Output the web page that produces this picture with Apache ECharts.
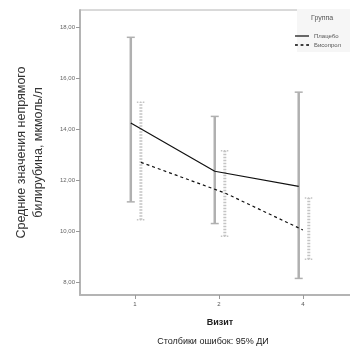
<!DOCTYPE html>
<html>
<head>
<meta charset="utf-8">
<script src="https://cdn.jsdelivr.net/npm/echarts@6/dist/echarts.min.js"></script>
<style>
  html, body, #main { width: 350px; height: 352px; margin: 0; background: #fff; }
</style>
</head>
<body>
<div id="main"></div>
<script>
// visits on the x axis (positions 1..3, labelled as in the source)
var visitPos = [1, 2, 3]
var visitLabels = ['1', '2', '4']

// means and 95% CI
var placeboMean = [14.24, 12.35, 11.76]
var placeboLow = [11.15, 10.3, 8.15]
var placeboHigh = [17.6, 14.5, 15.45]

var bisoMean = [12.7, 11.5, 10.05]
var bisoLow = [10.45, 9.8, 8.9]
var bisoHigh = [15.05, 13.15, 11.3]

var yTicks = [8, 10, 12, 14, 16, 18]

var offP = -0.05, offB = 0.07

var chart = echarts.init(document.getElementById('main'))

function errBar(color, width, dash) {
  return function (params, api) {
    var x = api.value(0)
    var lo = api.coord([x, api.value(1)])
    var hi = api.coord([x, api.value(2)])
    var w = 4
    var st = { stroke: color, lineWidth: width, lineDash: dash }
    var cap = { stroke: color, lineWidth: 1.5, lineDash: dash }
    return {
      type: 'group',
      children: [
        { type: 'line', shape: { x1: lo[0], y1: lo[1], x2: hi[0], y2: hi[1] }, style: st },
        { type: 'line', shape: { x1: hi[0] - w, y1: hi[1], x2: hi[0] + w, y2: hi[1] }, style: cap },
        { type: 'line', shape: { x1: lo[0] - w, y1: lo[1], x2: lo[0] + w, y2: lo[1] }, style: cap }
      ]
    }
  }
}

var option = {
  animation: false,
  backgroundColor: '#fff',
  grid: {
    left: 80, top: 10, right: -10, bottom: 57, outerBoundsMode: 'none',
    show: true, borderColor: '#b4b4b4', borderWidth: 1
  },
  xAxis: {
    type: 'value', min: 0.345, max: 3.68,
    splitLine: { show: false },
    axisLine: { lineStyle: { color: '#b4b4b4', width: 2 } },
    axisTick: { customValues: visitPos, length: 4, lineStyle: { color: '#999' } },
    axisLabel: {
      customValues: visitPos, fontSize: 6, color: '#555', margin: 6,
      formatter: function (v) { return visitLabels[visitPos.indexOf(v)] }
    },
    name: 'Визит', nameLocation: 'middle', nameGap: 23,
    nameTextStyle: { fontSize: 9, fontWeight: 'bold', color: '#222', fontFamily: 'Arial' }
  },
  yAxis: {
    type: 'value', min: 7.5, max: 18.67,
    splitLine: { show: false },
    axisLine: { show: true, lineStyle: { color: '#b4b4b4', width: 2 } },
    axisTick: { show: true, customValues: yTicks, length: 4, lineStyle: { color: '#999' } },
    axisLabel: {
      customValues: yTicks, fontSize: 6, color: '#666', margin: 5,
      formatter: function (v) { return v.toFixed(2).replace('.', ',') }
    },
    name: 'Средние значения непрямого\nбилирубина, мкмоль/л',
    nameLocation: 'middle', nameGap: 33, nameRotate: 90,
    nameTextStyle: { fontSize: 12.5, color: '#333', lineHeight: 17, fontFamily: 'Arial' }
  },
  legend: {
    orient: 'vertical', right: 4, top: 28, itemWidth: 14, itemHeight: 6, itemGap: 3,
    textStyle: { fontSize: 6, color: '#555' },
    data: [
      { name: 'Плацебо', icon: 'path://M0,0L12,0L12,1L0,1Z' },
      { name: 'Бисопрол', icon: 'path://M0,0L2,0L2,1L0,1ZM4,0L6,0L6,1L4,1ZM8,0L10,0L10,1L8,1Z' }
    ],
    itemStyle: { color: '#000' }
  },
  graphic: [
    { type: 'rect', left: 297, top: 9, shape: { width: 53, height: 43 }, style: { fill: '#f6f6f6' }, z: 1 },
    { type: 'text', left: 311, top: 15, style: { text: 'Группа', fontSize: 7, fill: '#555' }, z: 5 },
    {
      type: 'text', x: 213, y: 337,
      style: { text: 'Столбики ошибок: 95% ДИ', fontSize: 9, fill: '#222', fontFamily: 'Arial', align: 'center' }
    }
  ],
  series: [
    {
      type: 'custom', name: 'ciP',
      renderItem: errBar('#b0b0b0', 2.5, null),
      data: visitPos.map(function (v, i) { return [v + offP, placeboLow[i], placeboHigh[i]] }),
      z: 2
    },
    {
      type: 'custom', name: 'ciB',
      renderItem: errBar('#c4c4c4', 3, [1.5, 1.5]),
      data: visitPos.map(function (v, i) { return [v + offB, bisoLow[i], bisoHigh[i]] }),
      z: 2
    },
    {
      type: 'line', name: 'Плацебо', symbol: 'none',
      lineStyle: { color: '#111', width: 1.2 }, itemStyle: { color: '#111' },
      data: visitPos.map(function (v, i) { return [v + offP, placeboMean[i]] }),
      z: 3
    },
    {
      type: 'line', name: 'Бисопрол', symbol: 'none',
      lineStyle: { color: '#111', width: 1.2, type: [3, 3] }, itemStyle: { color: '#111' },
      data: visitPos.map(function (v, i) { return [v + (i === 2 ? 0 : offB), bisoMean[i]] }),
      z: 3
    }
  ]
}

chart.setOption(option)
</script>
</body>
</html>
